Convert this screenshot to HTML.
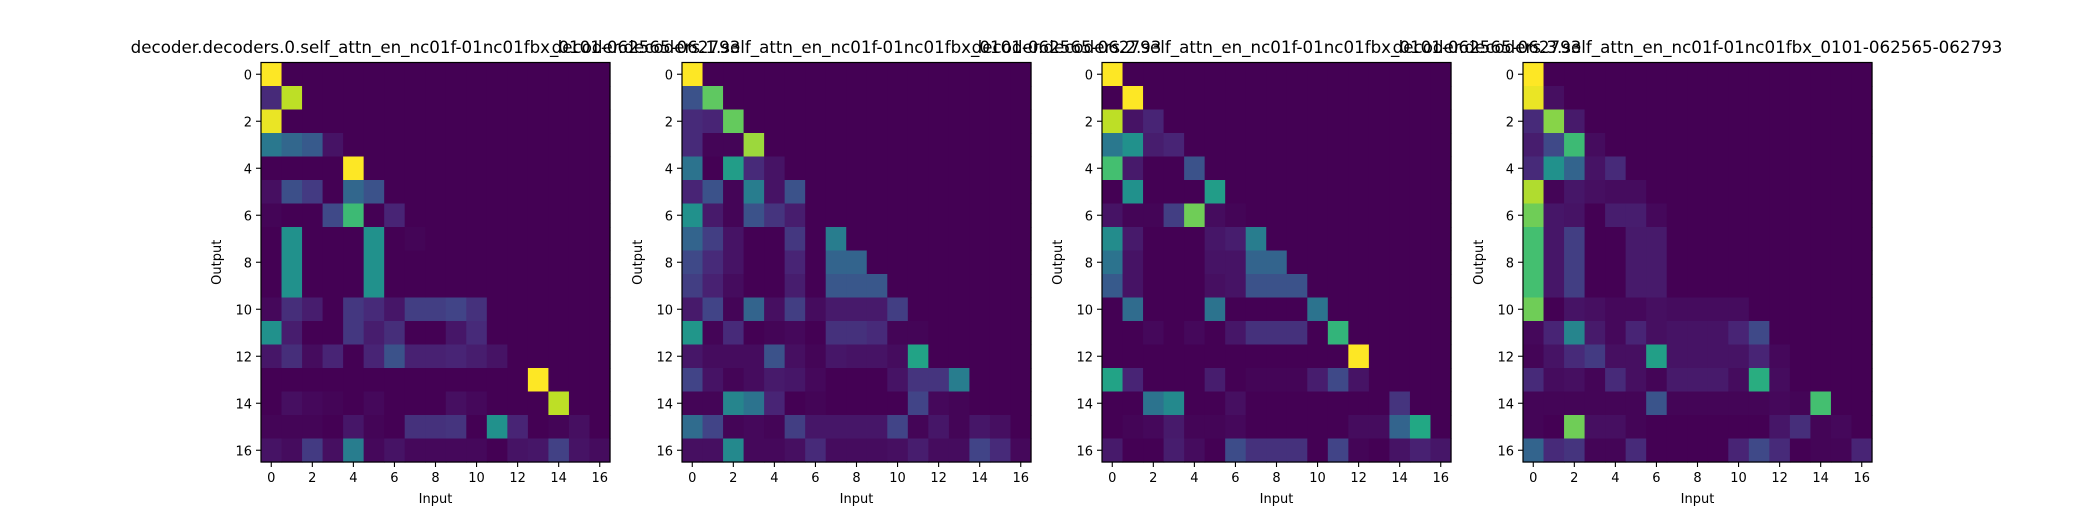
<!DOCTYPE html>
<html><head><meta charset="utf-8">
<style>
html,body{margin:0;padding:0;background:#fff;}
svg{display:block;font-family:"DejaVu Sans","Liberation Sans",sans-serif;}
</style></head>
<body>
<svg id="fig" width="2080" height="520" viewBox="0 0 2080 520" xmlns="http://www.w3.org/2000/svg"></svg>
<script>
const titles = [
 "decoder.decoders.0.self_attn_en_nc01f-01nc01fbx_0101-062565-062793",
 "decoder.decoders.1.self_attn_en_nc01f-01nc01fbx_0101-062565-062793",
 "decoder.decoders.2.self_attn_en_nc01f-01nc01fbx_0101-062565-062793",
 "decoder.decoders.3.self_attn_en_nc01f-01nc01fbx_0101-062565-062793"
];
const tickLabels = [0,2,4,6,8,10,12,14,16];
const heat0 = [
[1,0,0,0,0,0,0,0,0,0,0,0,0,0,0,0,0],
[.12,.9,0,0,0,0,0,0,0,0,0,0,0,0,0,0,0],
[.97,0,0,0,0,0,0,0,0,0,0,0,0,0,0,0,0],
[.4,.33,.28,.05,0,0,0,0,0,0,0,0,0,0,0,0,0],
[0,0,0,0,1,0,0,0,0,0,0,0,0,0,0,0,0],
[.04,.24,.17,0,.33,.25,0,0,0,0,0,0,0,0,0,0,0],
[.01,0,0,.22,.68,0,.1,0,0,0,0,0,0,0,0,0,0],
[0,.5,0,0,0,.5,0,.01,0,0,0,0,0,0,0,0,0],
[0,.5,0,0,0,.5,0,0,0,0,0,0,0,0,0,0,0],
[0,.5,0,0,0,.5,0,0,0,0,0,0,0,0,0,0,0],
[.02,.13,.08,0,.16,.12,.06,.18,.18,.2,.14,0,0,0,0,0,0],
[.5,.08,0,0,.16,.08,.13,0,0,.06,.12,0,0,0,0,0,0],
[.06,.13,.03,.1,0,.1,.25,.09,.09,.1,.08,.05,0,0,0,0,0],
[0,0,0,0,0,0,0,0,0,0,0,0,0,1,0,0,0],
[0,.04,.02,.01,0,.02,0,0,0,.04,.02,0,0,0,.9,0,0],
[.01,.01,.01,0,.06,.01,0,.14,.14,.15,0,.5,.1,0,.01,.04,0],
[.05,.03,.17,.04,.42,.02,.05,.02,.02,.02,.02,0,.05,.06,.19,.05,.03]];
const heat1 = [
[1,0,0,0,0,0,0,0,0,0,0,0,0,0,0,0,0],
[.25,.75,0,0,0,0,0,0,0,0,0,0,0,0,0,0,0],
[.12,.1,.76,0,0,0,0,0,0,0,0,0,0,0,0,0,0],
[.12,.01,.01,.85,0,0,0,0,0,0,0,0,0,0,0,0,0],
[.38,0,.55,.12,.05,0,0,0,0,0,0,0,0,0,0,0,0],
[.1,.25,.01,.42,.05,.25,0,0,0,0,0,0,0,0,0,0,0],
[.5,.07,.01,.25,.15,.08,0,0,0,0,0,0,0,0,0,0,0],
[.32,.18,.05,0,0,.16,0,.42,0,0,0,0,0,0,0,0,0],
[.22,.12,.05,0,0,.1,0,.32,.32,0,0,0,0,0,0,0,0],
[.18,.09,.03,0,0,.08,0,.27,.27,.27,0,0,0,0,0,0,0],
[.07,.2,.01,.32,.04,.18,.03,.07,.07,.07,.18,0,0,0,0,0,0],
[.52,.01,.12,0,.01,.02,0,.14,.14,.12,.01,.01,0,0,0,0,0],
[.06,.03,.03,.03,.25,.04,.01,.06,.05,.05,.03,.58,0,0,0,0,0],
[.2,.05,.01,.03,.07,.06,.02,0,0,0,.05,.15,.15,.42,0,0,0],
[.01,.01,.45,.38,.1,0,.01,0,0,0,0,.2,.02,.01,0,0,0],
[.35,.2,.01,.02,.01,.18,.06,.06,.06,.06,.2,.01,.06,.01,.06,.04,0],
[.04,.04,.47,.02,.02,.04,.12,.03,.03,.03,.04,.08,.03,.03,.2,.12,.02]];
const heat2 = [
[1,0,0,0,0,0,0,0,0,0,0,0,0,0,0,0,0],
[0,1,0,0,0,0,0,0,0,0,0,0,0,0,0,0,0],
[.9,.05,.1,0,0,0,0,0,0,0,0,0,0,0,0,0,0],
[.4,.5,.08,.1,0,0,0,0,0,0,0,0,0,0,0,0,0],
[.7,.07,0,0,.25,0,0,0,0,0,0,0,0,0,0,0,0],
[0,.5,0,0,0,.55,0,0,0,0,0,0,0,0,0,0,0],
[.05,.01,.01,.18,.78,.03,.01,0,0,0,0,0,0,0,0,0,0],
[.48,.07,0,0,0,.06,.08,.42,0,0,0,0,0,0,0,0,0],
[.38,.05,0,0,0,.05,.05,.32,.32,0,0,0,0,0,0,0,0],
[.28,.05,0,0,0,.04,.05,.25,.25,.25,0,0,0,0,0,0,0],
[0,.35,0,0,0,.38,0,0,0,0,.38,0,0,0,0,0,0],
[0,0,.02,0,.02,0,.06,.14,.14,.14,0,.65,0,0,0,0,0],
[0,0,0,0,0,0,0,0,0,0,0,0,1,0,0,0,0],
[.58,.1,0,0,0,.08,0,.01,.01,.01,.08,.22,.05,0,0,0,0],
[0,0,.38,.47,0,0,.04,0,0,0,0,0,0,0,.15,0,0],
[0,.01,.02,.07,.01,.01,.02,0,0,0,0,0,.03,.03,.32,.6,0],
[.07,0,0,.08,.03,0,.23,.14,.14,.14,0,.2,.01,0,.05,.09,.06]];
const heat3 = [
[1,0,0,0,0,0,0,0,0,0,0,0,0,0,0,0,0],
[.97,.04,0,0,0,0,0,0,0,0,0,0,0,0,0,0,0],
[.12,.82,.07,0,0,0,0,0,0,0,0,0,0,0,0,0,0],
[.08,.22,.68,.03,0,0,0,0,0,0,0,0,0,0,0,0,0],
[.12,.5,.32,.05,.12,0,0,0,0,0,0,0,0,0,0,0,0],
[.88,.01,.06,.04,.03,.03,0,0,0,0,0,0,0,0,0,0,0],
[.78,.06,.05,0,.08,.08,.02,0,0,0,0,0,0,0,0,0,0],
[.7,.06,.18,0,0,.07,.07,0,0,0,0,0,0,0,0,0,0],
[.7,.06,.18,0,0,.07,.07,0,0,0,0,0,0,0,0,0,0],
[.7,.06,.18,0,0,.07,.07,0,0,0,0,0,0,0,0,0,0],
[.78,0,.05,.04,.02,.02,.04,.03,.03,.03,.03,0,0,0,0,0,0],
[.02,.1,.45,.07,.02,.1,.04,.05,.05,.05,.1,.22,0,0,0,0,0],
[.01,.05,.12,.17,.04,.04,.56,.05,.05,.05,.05,.1,.02,0,0,0,0],
[.12,.03,.04,.01,.12,.04,.01,.07,.07,.07,.03,.62,.03,0,0,0,0],
[.01,.01,.01,.01,.01,.01,.26,.01,.01,.01,.01,.01,.02,.01,.7,0,0],
[.01,0,.78,.04,.04,.01,0,0,0,0,0,0,.06,.13,.01,.02,0],
[.32,.12,.15,.01,.01,.12,0,0,0,0,.1,.22,.12,0,.01,.01,.1]];
const heats = [heat0, heat1, heat2, heat3];

const N = 17, panelW = 349, panelH = 399.5, plotTop = 62.5;
const panelX = [261, 682, 1102, 1523];
const VIR = ["#440154","#482475","#414487","#355f8d","#2a788e","#21918c","#22a884","#44bf70","#7ad151","#bddf26","#fde725"];
function hexToRgb(c){return [1,3,5].map(i=>parseInt(c.substr(i,2),16));}
function viridis(v){v=Math.max(0,Math.min(1,v));const t=v*10,i=Math.min(9,Math.floor(t)),f=t-i;const a=hexToRgb(VIR[i]),b=hexToRgb(VIR[i+1]);return "rgb("+a.map((x,k)=>Math.round(x+(b[k]-x)*f)).join(",")+")";}
const svgEl = document.getElementById('fig');
const NS = "http://www.w3.org/2000/svg";
function mk(tag, attrs, parent){const e=document.createElementNS(NS,tag);for(const k in attrs)e.setAttribute(k,attrs[k]);(parent||svgEl).appendChild(e);return e;}

heats.forEach((data,p)=>{
  const x0 = panelX[p], cw = panelW/N, ch = panelH/N;
  const xs = i => x0 + i*cw, ys = j => plotTop + j*ch;
  const g = mk('g',{});
  
  
  const flat = [].concat(...data);
  const mn = Math.min(...flat), mx = Math.max(...flat);
  data.forEach((row,r)=>row.forEach((v,c)=>{
    const cell = mk('rect',{x:xs(c),y:ys(r),width:cw+0.6,height:ch+0.6,fill:viridis((v-mn)/((mx-mn)||1))},g);
    
    
  }));
  const fr = mk('rect',{x:x0,y:plotTop,width:panelW,height:panelH,fill:'none',stroke:'#000','stroke-width':1.2},g);
  
  
  tickLabels.forEach(t=>{
    const cx = xs(t)+cw/2, cy = ys(t)+ch/2;
    mk('line',{x1:cx,x2:cx,y1:plotTop+panelH,y2:plotTop+panelH+5,stroke:'#000','stroke-width':1.1},g);
    const xt = mk('text',{x:cx,y:plotTop+panelH+20,'font-size':13,'text-anchor':'middle',fill:'#000'},g);
    xt.textContent = t;
    
    
    mk('line',{x1:x0-5,x2:x0,y1:cy,y2:cy,stroke:'#000','stroke-width':1.1},g);
    const yt = mk('text',{x:x0-9,y:cy+5,'font-size':13,'text-anchor':'end',fill:'#000'},g);
    yt.textContent = t;
    
    
  });
  const xl = mk('text',{x:x0+panelW/2,y:503,'font-size':13,'text-anchor':'middle',fill:'#000'},g);
  xl.textContent = 'Input';
  
  
  const yl = mk('text',{x:0,y:0,'font-size':13,'text-anchor':'middle',fill:'#000',transform:'translate('+(x0-40)+','+(plotTop+panelH/2)+') rotate(-90)'},g);
  yl.textContent = 'Output';
  
  
  const tt = mk('text',{x:x0+panelW/2,y:53,'font-size':16.7,'text-anchor':'middle',fill:'#000'},g);
  tt.textContent = titles[p];
  
  
});
</script>
</body></html>
